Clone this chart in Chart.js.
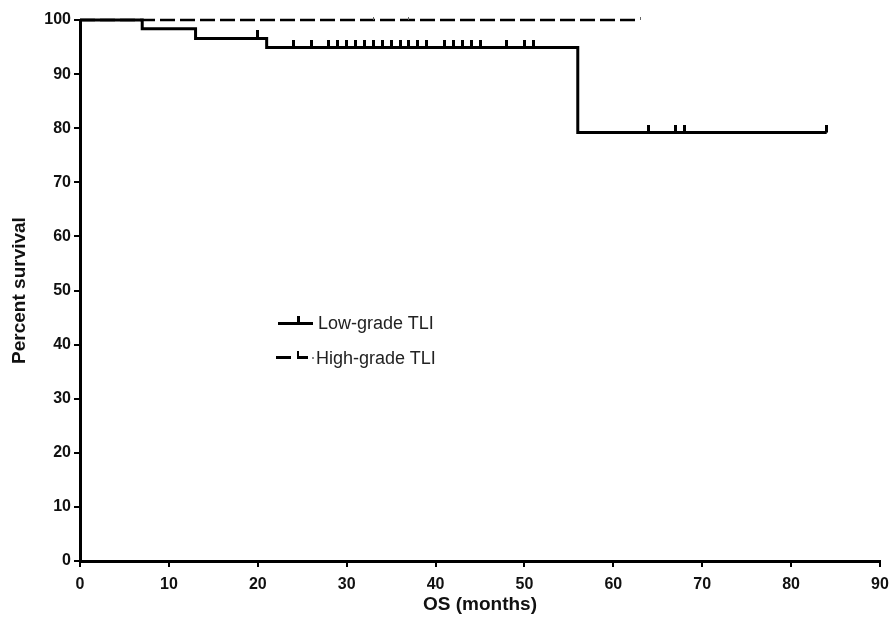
<!DOCTYPE html>
<html>
<head>
<meta charset="utf-8">
<script src="https://cdn.jsdelivr.net/npm/chart.js@4/dist/chart.umd.min.js"></script>
<style>
  html, body { margin: 0; padding: 0; background: #fff; }
  #wrap { position: relative; width: 890px; height: 619px; }
  canvas { display: block; }
  .lg-text { position: absolute; font-family: "Liberation Sans", Arial, sans-serif; font-size: 18px; color: #222; line-height: 20px; white-space: nowrap; }
  .lg-bar { position: absolute; background: #000; }
</style>
</head>
<body>
<div id="wrap">
  <canvas id="c" width="890" height="619"></canvas>
  <!-- legend: Low-grade -->
  <div class="lg-bar" style="left:278px; top:322px; width:35px; height:3px;"></div>
  <div class="lg-bar" style="left:297px; top:316px; width:3px; height:7px;"></div>
  <div class="lg-text" style="left:318px; top:313px;">Low-grade TLI</div>
  <!-- legend: High-grade -->
  <div class="lg-bar" style="left:276px; top:356px; width:15px; height:3px;"></div>
  <div class="lg-bar" style="left:297px; top:351px; width:2px; height:8px;"></div>
  <div class="lg-bar" style="left:297px; top:356px; width:11px; height:3px;"></div>
  <div class="lg-bar" style="left:312px; top:357px; width:2px; height:2px; background:#888;"></div>
  <div class="lg-text" style="left:316px; top:348px;">High-grade TLI</div>
</div>
<script>
// ---- data ----
const xTickValues = [0, 10, 20, 30, 40, 50, 60, 70, 80, 90];
const yTickValues = [0, 10, 20, 30, 40, 50, 60, 70, 80, 90, 100];

const lowTimes    = [0, 7, 13, 21, 56, 84];
const lowSurvival = [100, 98.4, 96.6, 94.9, 79.2, 79.2];

const highTimes    = [0, 63];
const highSurvival = [100, 100];

const lowCensorTimes    = [20, 24, 26, 28, 29, 30, 31, 32, 33, 34, 35, 36, 37, 38, 39, 41, 42, 43, 44, 45, 48, 50, 51, 64, 67, 68, 84];
const lowCensorSurvival = [96.6, 94.9, 94.9, 94.9, 94.9, 94.9, 94.9, 94.9, 94.9, 94.9, 94.9, 94.9, 94.9, 94.9, 94.9, 94.9, 94.9, 94.9, 94.9, 94.9, 94.9, 94.9, 94.9, 79.2, 79.2, 79.2, 79.2];

const highCensorTimes    = [33, 37, 63];
const highCensorSurvival = [100, 100, 100];

// ---- helpers ----
function toXY(xs, ys) { return xs.map((x, i) => ({ x: x, y: ys[i] })); }
function tickMark(w, up, color) {
  const c = document.createElement('canvas');
  c.width = w; c.height = up * 2;
  const g = c.getContext('2d');
  g.fillStyle = color;
  g.fillRect(0, 0, w, up);
  return c;
}
const lowTick = tickMark(3, 8, '#000');
const highTick = tickMark(1, 3, '#666');

const FONT = "'Liberation Sans', Arial, sans-serif";

new Chart(document.getElementById('c'), {
  type: 'scatter',
  data: {
    datasets: [
      {
        label: 'Low-grade TLI censored',
        data: toXY(lowCensorTimes, lowCensorSurvival),
        showLine: false,
        pointStyle: lowTick,
        pointRadius: 4,
        clip: false,
        order: 0
      },
      {
        label: 'Low-grade TLI',
        data: toXY(lowTimes, lowSurvival),
        showLine: true,
        stepped: 'before',
        borderColor: '#000',
        borderWidth: 3,
        pointRadius: 0,
        fill: false,
        clip: false,
        order: 1
      },
      {
        label: 'High-grade TLI censored',
        data: toXY(highCensorTimes, highCensorSurvival),
        showLine: false,
        pointStyle: highTick,
        pointRadius: 3,
        clip: false,
        order: 2
      },
      {
        label: 'High-grade TLI',
        data: toXY(highTimes, highSurvival),
        showLine: true,
        stepped: 'before',
        borderColor: '#000',
        borderWidth: 2.5,
        borderDash: [15, 5],
        pointRadius: 0,
        fill: false,
        clip: false,
        order: 3
      }
    ]
  },
  options: {
    responsive: false,
    animation: false,
    layout: { padding: { top: 20, right: 0, bottom: 0, left: 0 } },
    plugins: { legend: { display: false }, tooltip: { enabled: false } },
    scales: {
      x: {
        type: 'linear',
        min: 0, max: 90,
        afterFit: s => { s.height = 58; s.paddingLeft = 0; s.paddingRight = 10; },
        afterBuildTicks: s => { s.ticks = xTickValues.map(v => ({ value: v })); },
        border: { display: true, color: '#000', width: 3 },
        grid: { display: true, drawOnChartArea: false, drawTicks: true, tickLength: 6, color: '#000', lineWidth: 2 },
        ticks: { color: '#111', font: { family: FONT, size: 16, weight: 'bold' }, padding: 8, maxRotation: 0 },
        title: { display: true, text: 'OS (months)', color: '#111', font: { family: FONT, size: 19, weight: 'bold' }, padding: { top: 0, bottom: 3 } }
      },
      y: {
        type: 'linear',
        min: 0, max: 100,
        afterFit: s => { s.width = 80; },
        afterBuildTicks: s => { s.ticks = yTickValues.map(v => ({ value: v })); },
        border: { display: true, color: '#000', width: 3 },
        grid: { display: true, drawOnChartArea: false, drawTicks: true, tickLength: 6, color: '#000', lineWidth: 2 },
        ticks: { color: '#111', font: { family: FONT, size: 16, weight: 'bold' }, padding: 3 },
        title: { display: true, text: 'Percent survival', color: '#111', font: { family: FONT, size: 19, weight: 'bold' }, padding: { top: 8, bottom: 0 } }
      }
    }
  }
});
</script>
</body>
</html>
